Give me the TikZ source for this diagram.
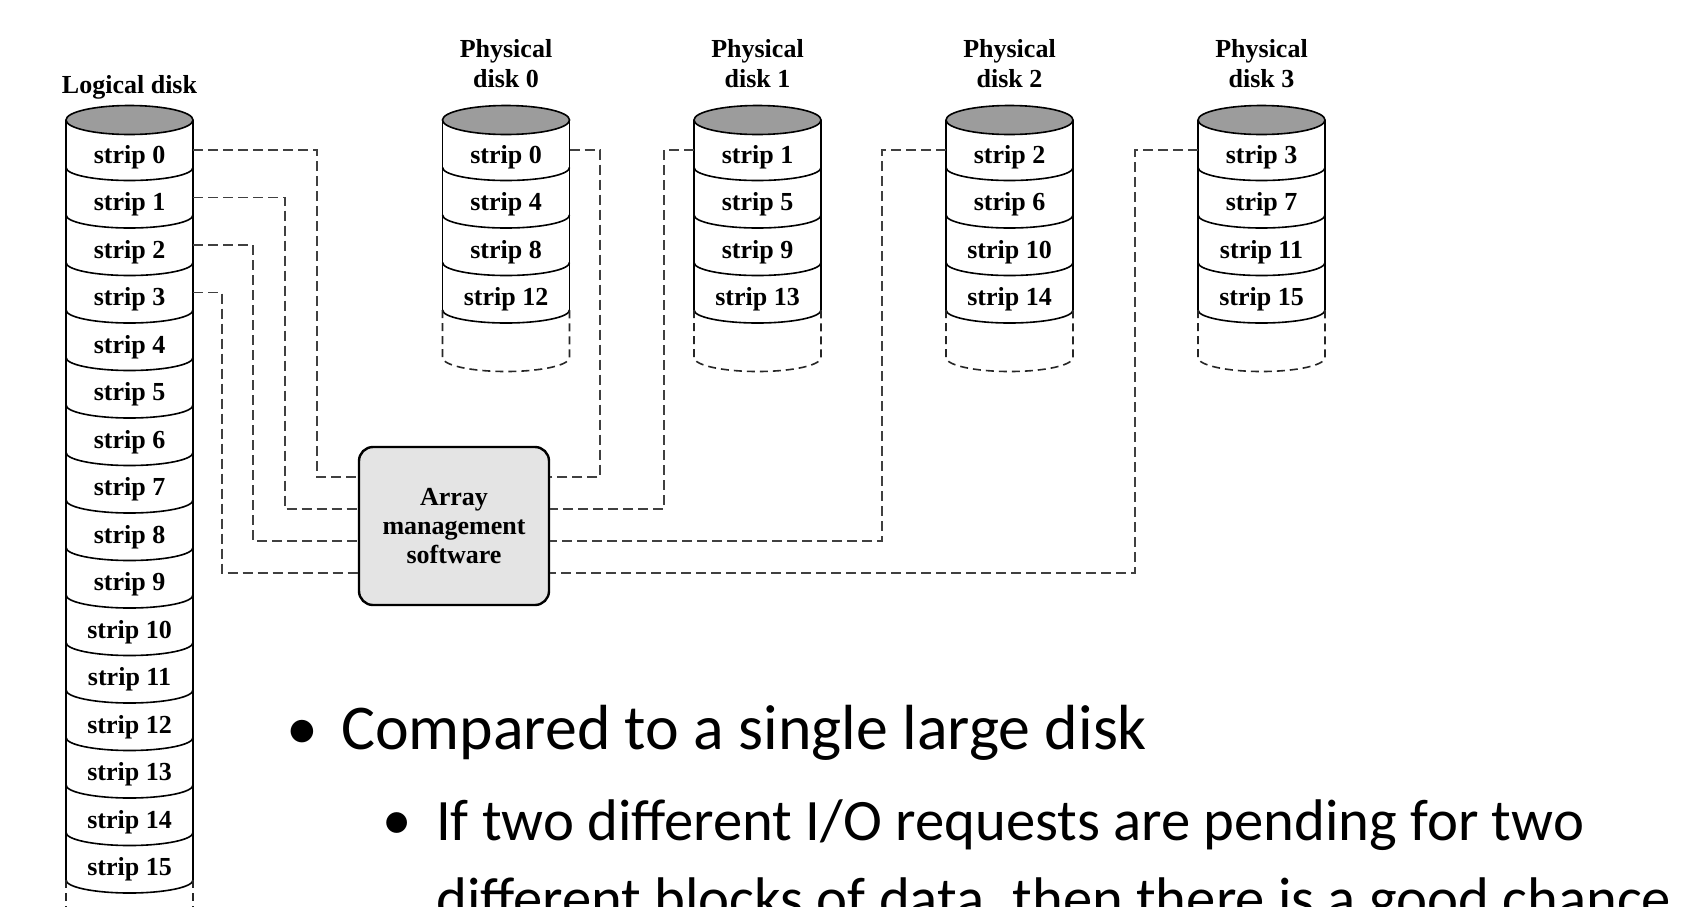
\documentclass[tikz,border=0pt]{standalone}
\usepackage{fontspec}
\setmainfont{Liberation Serif}
\newfontfamily\calibri{Carlito}
\definecolor{diskgray}{HTML}{9C9C9C}
\definecolor{boxgray}{HTML}{E4E4E4}
\definecolor{conngray}{HTML}{404040}
\newcommand{\diskcyl}[2]{%
  \draw[cyl] ({#1-63.5},120) -- ({#1-63.5},{120+#2*47.5});
  \draw[cyl] ({#1+63.5},120) -- ({#1+63.5},{120+#2*47.5});
  \foreach \k in {1,...,#2}{
    \draw[cyl] ({#1-63.5},{120+\k*47.5}) arc[start angle=180, end angle=360, x radius=63.5pt, y radius=13pt];
  }
  \draw[cyl, fill=diskgray] (#1,120) ellipse[x radius=63.5pt, y radius=14.5pt];
}
\begin{document}
\begin{tikzpicture}[x=1pt,y=-1pt,
  lbl/.style={font=\bfseries\fontsize{26}{30}\selectfont, align=center, inner sep=0pt},
  stripnode/.style={font=\bfseries\fontsize{26}{30}\selectfont, inner sep=0pt, minimum width=127pt, text height=30pt, text depth=4pt},
  cyl/.style={draw=black, line width=1.6pt},
  conn/.style={draw=conngray, line width=1.6pt, dash pattern=on 10pt off 5pt},
  ghost/.style={draw=black!85, line width=1.6pt, dash pattern=on 8pt off 5pt},
  amsbox/.style={draw=black, line width=2.4pt, fill=boxgray, rounded corners=14pt, minimum width=190pt, minimum height=158pt, align=center, font=\bfseries\fontsize{26}{29}\selectfont, inner sep=0pt},
  bigtext/.style={anchor=base west, font=\calibri\fontsize{63.8}{75}\selectfont, inner sep=0pt},
  subtext/.style={anchor=base west, font=\calibri\fontsize{58.7}{78}\selectfont, inner sep=0pt},
]
\useasboundingbox (0,0) rectangle (1685,906);
\fill[white] (0,0) rectangle (1685,906);
\clip (0,0) rectangle (1685,906);

% logical disk
\diskcyl{129.5}{16}
\draw[ghost] (66,880) -- (66,915);
\draw[ghost] (193,880) -- (193,915);
\node[lbl, anchor=base] (ltitle) at (129.5,93) {Logical disk};
\foreach \k in {0,...,15}{
  \node[stripnode] (l\k) at (129.5,{150+\k*47.5}) {strip \k};
}

% physical disks
\foreach \d/\cx in {0/506,1/757.5,2/1009.5,3/1261.5}{
  \diskcyl{\cx}{4}
  \draw[ghost] ({\cx-63.5},310) -- ({\cx-63.5},357.5) arc[start angle=180, end angle=360, x radius=63.5pt, y radius=14pt] -- ({\cx+63.5},310);
  \node[lbl, anchor=north] (pd\d) at (\cx,39) {Physical\\disk \d};
  \foreach \r in {0,1,2,3}{
    \pgfmathtruncatemacro{\sn}{\d+4*\r}
    \node[stripnode] (p\sn) at (\cx,{150+\r*47.5}) {strip \sn};
  }
}

% array management software
\node[amsbox] (ams) at (454,526) {Array\\management\\software};

% connectors left
\draw[conn] (l0.east) -| (317,477) -- (ams.west |- 317,477);
\draw[conn] (l1.east) -| (285,509) -- (ams.west |- 285,509);
\draw[conn] (l2.east) -| (253,541) -- (ams.west |- 253,541);
\draw[conn] (l3.east) -| (222,573) -- (ams.west |- 222,573);
% connectors right
\draw[conn] (p0.east) -| (600,477) -- (ams.east |- 600,477);
\draw[conn] (p1.west) -| (664,509) -- (ams.east |- 664,509);
\draw[conn] (p2.west) -| (882,541) -- (ams.east |- 882,541);
\draw[conn] (p3.west) -| (1135,573) -- (ams.east |- 1135,573);

% bullets
\node[font=\calibri\fontsize{63.8}{75}\selectfont, inner sep=0pt, anchor=base] (b1) at (302,749) {•};
\node[bigtext] (t1) at (341,749) {Compared to a single large disk};
\node[font=\calibri\fontsize{58.7}{78}\selectfont, inner sep=0pt, anchor=base] (b2) at (397,839) {•};
\node[subtext] (t2) at (436,840) {If two different I/O requests are pending for two};
\node[subtext] (t3) at (436,918) {different blocks of data, then there is a good chance};
\end{tikzpicture}
\end{document}
